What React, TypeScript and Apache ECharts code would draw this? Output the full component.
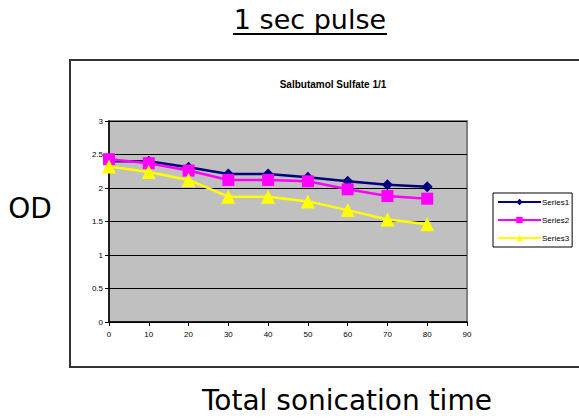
import React, { useEffect, useRef } from "react";
import * as echarts from "echarts";

const times = [0, 10, 20, 30, 40, 50, 60, 70, 80];
const series1 = [2.4, 2.4, 2.31, 2.21, 2.21, 2.16, 2.1, 2.05, 2.02];
const series2 = [2.43, 2.37, 2.26, 2.12, 2.12, 2.1, 1.98, 1.88, 1.84];
const series3 = [2.32, 2.24, 2.12, 1.87, 1.87, 1.8, 1.67, 1.53, 1.46];
const seriesNames = ["Series1", "Series2", "Series3"];
const xTicks = { min: 0, max: 90, interval: 10 };
const yTicks = { min: 0, max: 3, interval: 0.5 };

export default function App() {
  const ref = useRef<HTMLDivElement>(null);
  useEffect(() => {
    if (!ref.current) return;
    const chart = echarts.init(ref.current, null, { renderer: "svg" });
    const pair = (ys: number[]) => times.map((t, i) => [t, ys[i]]);
    const bigFont = "'DejaVu Sans', Verdana, sans-serif";
    const small = "Arial, 'Liberation Sans', sans-serif";
    chart.setOption({
      animation: false,
      backgroundColor: "#ffffff",
      title: {
        text: "Salbutamol Sulfate 1/1",
        left: 328,
        top: 74,
        textAlign: "center",
        textStyle: { fontFamily: small, fontSize: 10, fontWeight: "bold", color: "#000" },
      },
      graphic: [
        { type: "rect", shape: { x: 70, y: 60, width: 520, height: 307 }, style: { fill: "none", stroke: "#333", lineWidth: 2 }, z: -1 },
        { type: "text", x: 310, y: 19, style: { text: "1 sec pulse", fontFamily: bigFont, fontSize: 27, fill: "#000", align: "center", verticalAlign: "middle" } },
        { type: "line", shape: { x1: 233, y1: 34, x2: 387, y2: 34 }, style: { stroke: "#000", lineWidth: 2 } },
        { type: "text", x: 30, y: 208, style: { text: "OD", fontFamily: bigFont, fontSize: 28, fill: "#000", align: "center", verticalAlign: "middle" } },
        { type: "text", x: 202, y: 400, style: { text: "Total sonication time", fontFamily: bigFont, fontSize: 28, fill: "#000", align: "left", verticalAlign: "middle" } },
      ],
      legend: {
        data: seriesNames,
        orient: "vertical",
        left: 493,
        top: 193,
        width: 84,
        padding: [5, 3, 5, 4],
        itemGap: 10,
        itemWidth: 43,
        itemHeight: 8,
        backgroundColor: "#fff",
        borderColor: "#000",
        borderWidth: 1,
        textStyle: { fontFamily: small, fontSize: 8, color: "#000", padding: [0, 0, 0, -4] },
      },
      grid: {
        left: 109,
        top: 121,
        right: 112,
        bottom: 96,
        show: true,
        backgroundColor: "#C0C0C0",
        borderColor: "#808080",
        borderWidth: 2,
      },
      xAxis: {
        type: "value",
        min: xTicks.min,
        max: xTicks.max,
        interval: xTicks.interval,
        axisLine: { show: true, lineStyle: { color: "#000", width: 1.5 } },
        axisTick: { show: true, inside: false, length: 4, lineStyle: { color: "#000" } },
        axisLabel: { fontFamily: small, fontSize: 8, color: "#000", margin: 8 },
        splitLine: { show: false },
      },
      yAxis: {
        type: "value",
        min: yTicks.min,
        max: yTicks.max,
        interval: yTicks.interval,
        axisLine: { show: true, lineStyle: { color: "#000", width: 1.5 } },
        axisTick: { show: true, inside: false, length: 4, lineStyle: { color: "#000" } },
        axisLabel: { fontFamily: small, fontSize: 8, color: "#000", margin: 6 },
        splitLine: { show: true, lineStyle: { color: "#000", width: 1 } },
      },
      series: [
        {
          name: seriesNames[0],
          type: "line",
          data: pair(series1),
          symbol: "diamond",
          symbolSize: 11,
          itemStyle: { color: "#000080" },
          lineStyle: { color: "#000080", width: 2.5 },
          z: 3,
        },
        {
          name: seriesNames[1],
          type: "line",
          data: pair(series2),
          symbol: "rect",
          symbolSize: 12,
          itemStyle: { color: "#FF00FF" },
          lineStyle: { color: "#FF00FF", width: 2.5 },
          z: 4,
        },
        {
          name: seriesNames[2],
          type: "line",
          data: pair(series3),
          symbol: "triangle",
          symbolSize: 14,
          itemStyle: { color: "#FFFF00" },
          lineStyle: { color: "#FFFF00", width: 2.5 },
          z: 5,
        },
      ],
    });
    return () => chart.dispose();
  }, []);
  return <div ref={ref} style={{ position: "fixed", left: 0, top: 0, width: 579, height: 418 }} />;
}
